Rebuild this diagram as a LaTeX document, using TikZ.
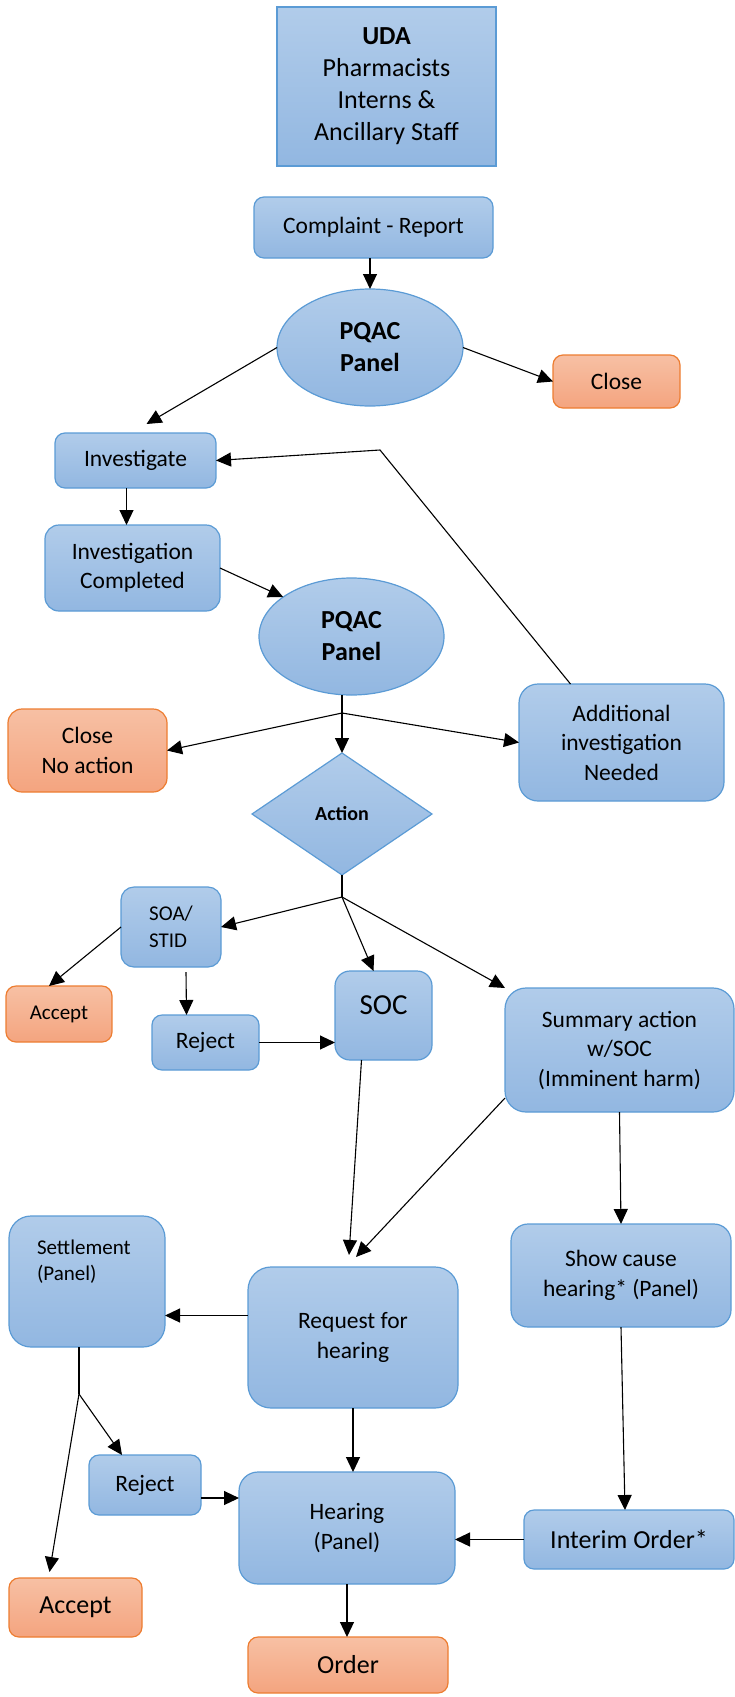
\documentclass[tikz,border=0pt]{standalone}
\usepackage{fontspec}
\setmainfont{Carlito}
\usepackage{tikz,xcolor}
\usetikzlibrary{shapes.geometric,arrows.meta,positioning,calc}

\definecolor{bluetop}{HTML}{B1CCEA}
\definecolor{bluebot}{HTML}{92B7E1}
\definecolor{blueedge}{HTML}{5B9BD5}
\definecolor{orangetop}{HTML}{F7C0A4}
\definecolor{orangebot}{HTML}{F4A47F}
\definecolor{orangeedge}{HTML}{ED7D31}

\newcommand{\normaltxt}{\fontsize{23.5}{29.5}\selectfont}
\newcommand{\largetxt}{\fontsize{26}{32}\selectfont}
\newcommand{\smalltxt}{\fontsize{21}{26.5}\selectfont}
\newcommand{\soctxt}{\fontsize{29}{35}\selectfont}

\tikzstyle{bluebox} = [rectangle, rounded corners=10pt, draw=blueedge, line width=1.2pt, top color=bluetop, bottom color=bluebot, align=center, inner sep=0pt]
\tikzstyle{orangebox} = [bluebox, draw=orangeedge, top color=orangetop, bottom color=orangebot]
\tikzstyle{panel} = [ellipse, draw=blueedge, line width=1.2pt, top color=bluetop, bottom color=bluebot, align=center, inner sep=0pt, minimum width=186pt, minimum height=117pt, font=\largetxt\bfseries]
\tikzstyle{decision} = [diamond, draw=blueedge, line width=1.2pt, top color=bluetop, bottom color=bluebot, inner sep=0pt, font=\fontsize{20}{24}\selectfont\bfseries]
\tikzstyle{arrow} = [line width=1.1pt,->]

\begin{document}
\begin{tikzpicture}[>={Triangle[length=15pt,width=14pt]},every node/.style={font=\normaltxt, outer sep=0pt}]
    \useasboundingbox (0,0) rectangle (735pt,-1697pt);
    % create the nodes
    \node (uda) [bluebox, sharp corners, minimum width=219pt, minimum height=159pt, font=\largetxt] at (386.5pt,-86.5pt) {\textbf{UDA}\\Pharmacists\\Interns \&\\Ancillary Staff};
    \node (complaint) [bluebox, below = 31pt of uda, xshift=-13pt, minimum width=239pt, minimum height=61pt] {Complaint - Report};
    \node (panelA) [panel, below = 31pt of complaint, xshift=-3.5pt] {PQAC\\Panel};
    \node (close) [orangebox, right = 90pt of panelA, yshift=-34pt, minimum width=127pt, minimum height=53pt] {Close};
    \node (investigate) [bluebox, below = 27pt of panelA, xshift=-234.5pt, minimum width=161pt, minimum height=55pt] {Investigate};
    \node (completed) [bluebox, below = 37pt of investigate, xshift=-3pt, minimum width=175pt, minimum height=86pt, rounded corners=14pt] {Investigation\\Completed};
    \node (panelB) [panel, right = 39pt of completed, yshift=-68.5pt, minimum width=185pt] {PQAC\\Panel};
    \node (action) [decision, below = 58pt of panelB, xshift=-9.5pt, minimum width=180pt, minimum height=122pt] {Action};
    \node (noaction) [orangebox, left = 85pt of action, yshift=63.5pt, minimum width=159pt, minimum height=83pt, rounded corners=14pt] {Close\\No action};
    \node (additional) [bluebox, right = 87pt of action, yshift=71.5pt, minimum width=205pt, minimum height=117pt, rounded corners=19pt] {Additional\\investigation\\Needed};
    \node (soa) [bluebox, below = 12pt of action, xshift=-171pt, minimum width=100pt, minimum height=80pt, rounded corners=13pt, align=left, font=\smalltxt] {SOA/\\STID};
    \node (acceptA) [orangebox, below = 19pt of soa, xshift=-112pt, minimum width=106pt, minimum height=56pt, font=\smalltxt] {Accept};
    \node (rejectA) [bluebox, below = 48pt of soa, xshift=34.5pt, minimum width=107pt, minimum height=55pt] {Reject};
    \node (soc) [bluebox, right = 76pt of rejectA, yshift=27pt, minimum width=97pt, minimum height=89pt, rounded corners=15pt, font=\soctxt, text height=43.5pt, text depth=45.5pt] {SOC};
    \node (summary) [bluebox, below = 113pt of action, xshift=277.5pt, minimum width=229pt, minimum height=124pt, rounded corners=21pt] {Summary action\\w/SOC\\(Imminent harm)};
    \node (showcause) [bluebox, below = 112pt of summary, xshift=1.5pt, minimum width=220pt, minimum height=103pt, rounded corners=17pt] {Show cause\\hearing* (Panel)};
    \node (request) [bluebox, below = 207pt of soc, xshift=-30.5pt, minimum width=210pt, minimum height=141pt, rounded corners=23pt] {Request for\\hearing};
    \node (settlement) [bluebox, left = 83pt of request, yshift=56pt, minimum width=156pt, minimum height=131pt, rounded corners=22pt, align=left, text width=100pt, inner xsep=28pt, text height=38pt, text depth=93pt, font=\smalltxt] {Settlement\\(Panel)};
    \node (hearing) [bluebox, below = 64pt of request, xshift=-6pt, minimum width=216pt, minimum height=112pt, rounded corners=19pt] {Hearing\\(Panel)};
    \node (rejectB) [bluebox, left = 38pt of hearing, yshift=43pt, minimum width=112pt, minimum height=60pt] {Reject};
    \node (interim) [bluebox, right = 69pt of hearing, yshift=-11.5pt, minimum width=210pt, minimum height=59pt, font=\largetxt] {Interim Order*};
    \node (order) [orangebox, below = 53pt of hearing, xshift=1pt, minimum width=200pt, minimum height=56pt, font=\largetxt] {Order};
    \node (acceptB) [orangebox, left = 106pt of order, yshift=57.5pt, minimum width=133pt, minimum height=59pt, font=\largetxt] {Accept};

    % branch points
    \coordinate (loopturn) at ($(investigate.east)+(164pt,10.5pt)$);
    \coordinate (splitB) at ($(action.north)+(0,40pt)$);
    \coordinate (splitC) at ($(action.south)+(0,-22pt)$);
    \coordinate (splitD) at ($(settlement.south)+(-8pt,-47pt)$);

    % connect the nodes
    \draw[arrow] (complaint.south -| panelA.north) -- (panelA.north);
    \draw[arrow] (panelA.east) -- (close.west);
    \draw[arrow] (panelA.west) -- ([xshift=11pt,yshift=9pt]investigate.north);
    \draw[arrow] ([xshift=-9pt]investigate.south) -- ([xshift=-9pt]investigate.south |- completed.north);
    \draw[arrow] (completed.east) -- (panelB.150);
    \draw[arrow] ([xshift=-51pt]additional.north) -- (loopturn) -- (investigate.east);
    \draw[arrow] (panelB.south -| action.north) -- (action.north);
    \draw[arrow] (splitB) -- (noaction.east);
    \draw[arrow] (splitB) -- (additional.west);
    \draw[line width=1.1pt] (action.south) -- (splitC);
    \draw[arrow] (splitC) -- (soa.east);
    \draw[arrow] (splitC) -- ([xshift=-10pt]soc.north);
    \draw[arrow] (splitC) -- (summary.north west);
    \draw[arrow] (soa.west) -- ([xshift=-10pt]acceptA.north);
    \draw[arrow] ([xshift=15pt,yshift=-5pt]soa.south) -- ([xshift=-19pt]rejectA.north);
    \draw[arrow] (rejectA.east) -- (rejectA.east -| soc.west);
    \draw[arrow] ([xshift=-22pt]soc.south) -- ([xshift=-4pt,yshift=12pt]request.north);
    \draw[arrow] ([yshift=14pt]summary.south west) -- ([xshift=3pt,yshift=10pt]request.north);
    \draw[arrow] (summary.south) -- (showcause.north);
    \draw[arrow] ([yshift=22pt]request.west) -- ([yshift=22pt]request.west -| settlement.east);
    \draw[line width=1.1pt] ([xshift=-8pt]settlement.south) -- (splitD);
    \draw[arrow] (splitD) -- ([xshift=-23pt]rejectB.north);
    \draw[arrow] (splitD) -- ([xshift=-26pt,yshift=6pt]acceptB.north);
    \draw[arrow] (request.south) -- (request.south |- hearing.north);
    \draw[arrow] ([yshift=-13pt]rejectB.east) -- ([yshift=-13pt]rejectB.east -| hearing.west);
    \draw[arrow] (showcause.south) -- ([xshift=-4pt]interim.north);
    \draw[arrow] (interim.west) -- (interim.west -| hearing.east);
    \draw[arrow] (hearing.south) -- (hearing.south |- order.north);

\end{tikzpicture}
\end{document}
